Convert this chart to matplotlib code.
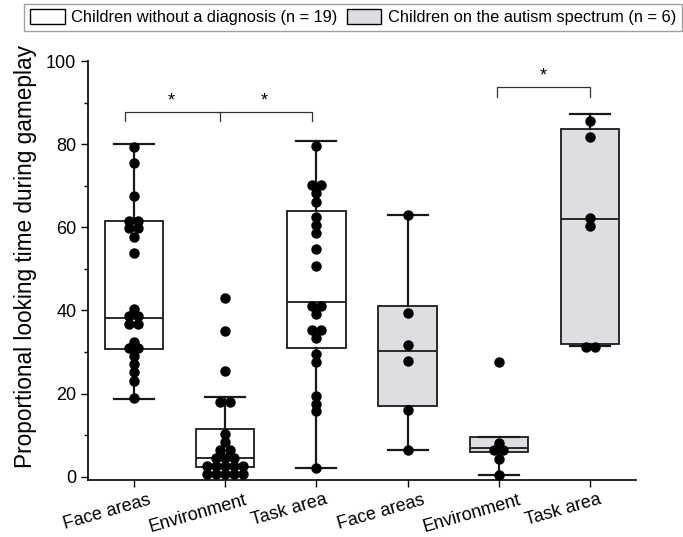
import numpy as np
import matplotlib as mpl

mpl.use('Agg')

import matplotlib.pyplot as plt
from matplotlib.patches import Patch
from matplotlib.transforms import ScaledTranslation

plt.rcParams['font.family'] = ['Liberation Sans', 'DejaVu Sans']

categories = ['Face areas', 'Environment', 'Task area',
              'Face areas', 'Environment', 'Task area']
legend_labels = ['Children without a diagnosis (n = 19)',
                 'Children on the autism spectrum (n = 6)']

# individual values
face_nd = [79.4, 75.4, 67.5, 61.6, 61.6, 59.8, 59.8, 57.8, 53.9, 40.3, 38.6,
           38.6, 36.7, 36.7, 32.5, 30.9, 30.9, 29.1, 27.2, 25.1, 23.1, 18.9]
env_nd = [42.9, 35.1, 25.4, 17.9, 17.9, 10.3, 8.3, 6.3, 6.3, 4.5, 4.5, 4.5,
          2.6, 2.6, 2.6, 2.6, 2.6, 0.6, 0.6, 0.6, 0.6, 0.6]
task_nd = [79.6, 70.2, 70.2, 68.2, 66.2, 62.6, 60.6, 58.6, 54.7, 50.7, 41.1,
           41.1, 39.2, 35.3, 35.3, 33.3, 29.6, 27.5, 19.5, 17.5, 15.7, 2.1]
face_asd = [63.0, 39.5, 31.7, 27.9, 16.1, 6.5]
env_asd = [27.5, 8.1, 6.5, 6.5, 4.3, 0.5]
task_asd = [85.7, 81.7, 62.3, 60.4, 31.3, 31.3]
groups = [face_nd, env_nd, task_nd, face_asd, env_asd, task_asd]

# box statistics as drawn
whislo = [18.8, 0.3, 2.1, 6.5, 0.4, 31.4]
q1 = [30.7, 2.4, 30.9, 16.9, 5.9, 32.0]
med = [38.3, 4.5, 42.0, 30.3, 6.8, 61.9]
q3 = [61.6, 11.4, 64.0, 41.0, 9.6, 83.6]
whishi = [80.0, 19.2, 80.7, 62.9, 9.6, 87.2]

fill_colors = ['white', 'white', 'white', '#dcdee1', '#dcdee1', '#dcdee1']


def swarm_offsets(vals, step=0.1):
    """spread equal values side by side"""
    offs = np.zeros(len(vals))
    vals = np.asarray(vals)
    for v in np.unique(vals):
        idx = np.where(vals == v)[0]
        n = len(idx)
        offs[idx] = (np.arange(n) - (n - 1) / 2) * step
    return offs


fig = plt.figure(figsize=(6.83, 5.37), dpi=100)
ax = fig.add_axes([0.129, 0.107, 0.802, 0.779])

positions = np.arange(1, len(categories) + 1)
stats = []
for i in range(len(categories)):
    stats.append(dict(med=med[i], q1=q1[i], q3=q3[i],
                      whislo=whislo[i], whishi=whishi[i], fliers=[]))

bp = ax.bxp(stats, positions=positions, widths=0.64, patch_artist=True,
            showfliers=False, capwidths=0.44,
            boxprops=dict(edgecolor='#1a1a1a', linewidth=1.3),
            whiskerprops=dict(color='#1a1a1a', linewidth=1.6),
            capprops=dict(color='#1a1a1a', linewidth=1.6),
            medianprops=dict(color='#1a1a1a', linewidth=1.3))
for patch, c in zip(bp['boxes'], fill_colors):
    patch.set_facecolor(c)

for pos, vals in zip(positions, groups):
    xs = pos + swarm_offsets(vals)
    ax.plot(xs, vals, 'o', color='black', markersize=6.5, zorder=5, clip_on=False)

# significance brackets
lw = 0.9
ax.plot([0.9, 0.9, 2.95, 2.95], [85.6, 87.7, 87.7, 85.6], color='#333333', lw=lw)
ax.plot([1.94, 1.94], [85.6, 87.7], color='#333333', lw=lw)
ax.text(1.41, 88.3, '*', ha='center', va='bottom', fontsize=13)
ax.text(2.43, 88.3, '*', ha='center', va='bottom', fontsize=13)
ax.plot([4.98, 4.98, 6.0, 6.0], [91.4, 93.8, 93.8, 91.4], color='#333333', lw=lw)
ax.text(5.48, 94.4, '*', ha='center', va='bottom', fontsize=13)

ax.set_xlim(0.5, 6.5)
ax.set_ylim(-0.7, 100)
ax.set_yticks(np.arange(0, 101, 20))
ax.set_yticks(np.arange(10, 100, 20), minor=True)
ax.set_xticks(positions)
ax.tick_params(axis='y', labelsize=13, direction='out', length=5, width=1)
ax.tick_params(axis='y', which='minor', direction='out', length=3, width=1)
ax.tick_params(axis='x', direction='out', length=5, width=1)
ax.set_xticklabels(categories, rotation=16, ha='center', fontsize=13)
offset = ScaledTranslation(-27 / 100, 0, fig.dpi_scale_trans)
for lab in ax.xaxis.get_majorticklabels():
    lab.set_transform(lab.get_transform() + offset)
ax.spines['top'].set_visible(False)
ax.spines['right'].set_visible(False)
ax.spines['left'].set_linewidth(1.2)
ax.spines['bottom'].set_linewidth(1.2)
ax.set_ylabel('Proportional looking time during gameplay', fontsize=16.3)
ax.yaxis.set_label_coords(-0.093, 0.534)

handles = [Patch(facecolor=c, edgecolor='black', linewidth=1)
           for c in ['white', '#dcdee1']]
fig.legend(handles, legend_labels, loc='upper center', ncol=2,
           bbox_to_anchor=(0.517, 0.993), fontsize=11.8, frameon=True,
           fancybox=False, edgecolor='#888888', handlelength=2.1,
           handleheight=1.0, handletextpad=0.42, columnspacing=0.54,
           borderpad=0.35, borderaxespad=0)

fig.savefig('out.png', dpi=100)
